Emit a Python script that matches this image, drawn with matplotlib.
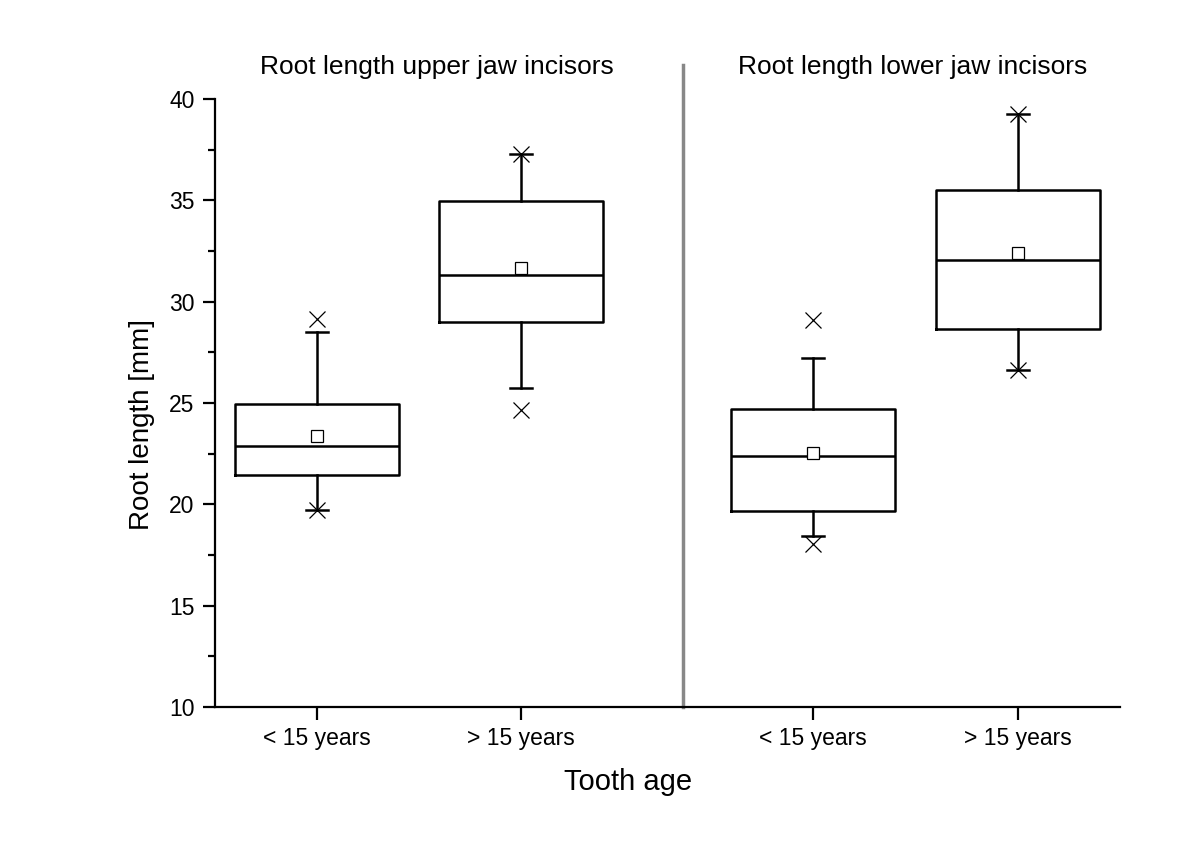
import matplotlib.pyplot as plt
import numpy as np

plt.rcParams['font.family'] = ['Liberation Sans', 'DejaVu Sans']

# box statistics (root length, mm)
groups = ['upper <15', 'upper >15', 'lower <15', 'lower >15']
q1 = [21.45, 29.0, 19.65, 28.65]
med = [22.87, 31.3, 22.4, 32.05]
q3 = [24.95, 34.97, 24.72, 35.5]
mean = [23.35, 31.65, 22.55, 32.4]
whislo = [19.7, 25.75, 18.45, 26.65]
whishi = [28.5, 37.3, 27.2, 39.25]
xmin = [19.7, 24.65, 18.05, 26.65]
xmax = [29.15, 37.3, 29.1, 39.25]

positions = [1, 2, 3.431, 4.436]
tick_labels = ['< 15 years', '> 15 years', '< 15 years', '> 15 years']
panel_titles = ['Root length upper jaw incisors', 'Root length lower jaw incisors']

fig = plt.figure(figsize=(12, 8.48), dpi=100)
ax = fig.add_axes([215/1200, 1 - 707/848, 905/1200, 608/848])

stats = []
for i in range(len(groups)):
    stats.append(dict(med=med[i], q1=q1[i], q3=q3[i], mean=mean[i],
                      whislo=whislo[i], whishi=whishi[i], fliers=[]))

ax.bxp(stats, positions=positions, widths=0.8, showmeans=True,
       showfliers=False, capwidths=0.11,
       boxprops=dict(color='black', linewidth=1.8),
       medianprops=dict(color='black', linewidth=1.8),
       whiskerprops=dict(color='black', linewidth=1.8),
       capprops=dict(color='black', linewidth=1.8),
       meanprops=dict(marker='s', markerfacecolor='white', markeredgecolor='black',
                      markersize=8, markeredgewidth=0.9))

ax.plot(positions, xmin, linestyle='none', marker='x', color='black',
        markersize=11, markeredgewidth=0.9)
ax.plot(positions, xmax, linestyle='none', marker='x', color='black',
        markersize=11, markeredgewidth=0.9)

# separator between the two panels
ax.plot([2.794, 2.794], [10, 41.7], color='#888888', linewidth=2.5, clip_on=False)

ax.set_xlim(0.5, 0.5 + 905/204)
ax.set_ylim(10, 40)
ax.set_yticks(np.arange(10, 41, 5))
ax.set_yticks(np.arange(12.5, 40, 5), minor=True)
ax.set_xticks(positions)
ax.set_xticklabels(tick_labels)

for s in ['top', 'right']:
    ax.spines[s].set_visible(False)
for s in ['left', 'bottom']:
    ax.spines[s].set_linewidth(1.6)

ax.tick_params(axis='y', which='major', direction='out', length=8.6, width=1.6,
               labelsize=16.5, pad=6)
ax.tick_params(axis='y', which='minor', direction='out', length=5, width=1.6)
ax.tick_params(axis='x', which='major', direction='out', length=9.5, width=1.6,
               labelsize=16.5, pad=5)

ax.text(1 + 120/204, 41.58, panel_titles[0], ha='center', va='center', fontsize=19)
ax.text(1 + 596/204, 41.58, panel_titles[1], ha='center', va='center', fontsize=19)

fig.text(142/1200, 1 - 424/848, 'Root length [mm]', rotation=90, ha='center',
         va='center', fontsize=20)
fig.text(628/1200, 1 - 782/848, 'Tooth age', ha='center', va='center', fontsize=21)

fig.savefig('out.png', dpi=100)
